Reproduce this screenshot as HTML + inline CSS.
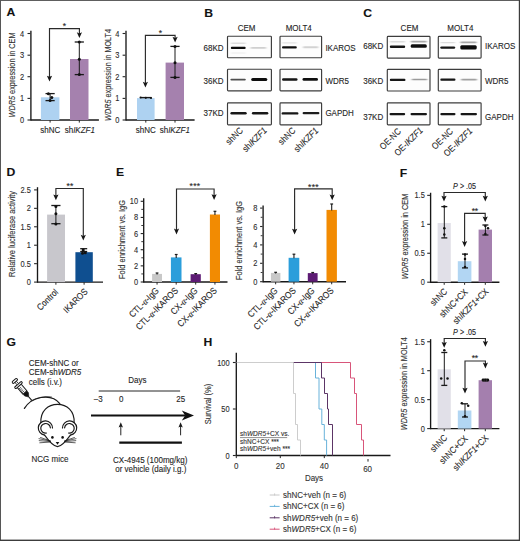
<!DOCTYPE html><html><head><meta charset="utf-8"><style>html,body{margin:0;padding:0;background:#fff;overflow:hidden;}svg{display:block;}text{font-family:"Liberation Sans",sans-serif;stroke:#333;stroke-width:0.12px;}</style></head><body>
<svg width="520" height="541" viewBox="0 0 520 541">
<defs><filter id="bl" x="-20%" y="-300%" width="140%" height="700%"><feGaussianBlur stdDeviation="0.7 0.55"/></filter><filter id="bl2" x="-20%" y="-300%" width="140%" height="700%"><feGaussianBlur stdDeviation="0.8 0.7"/></filter></defs>
<rect x="0" y="0" width="520" height="541" fill="#fff"/>
<text transform="translate(6.6,16.4) scale(1.05,1)" font-size="11.6" text-anchor="start" fill="#111" font-weight="bold" >A</text>
<line x1="30.9" y1="30.8" x2="30.9" y2="120.6" stroke="#181818" stroke-width="1.35" />
<line x1="30.299999999999997" y1="120.0" x2="98.9" y2="120.0" stroke="#181818" stroke-width="1.35" />
<line x1="50.1" y1="120.0" x2="50.1" y2="122.6" stroke="#262626" stroke-width="1.0" />
<line x1="79.3" y1="120.0" x2="79.3" y2="122.6" stroke="#262626" stroke-width="1.0" />
<line x1="27.5" y1="33.5" x2="30.3" y2="33.5" stroke="#262626" stroke-width="1.1" />
<text transform="translate(24.2,36.5) scale(0.8,1)" font-size="9.3" text-anchor="end" fill="#2a2a2a" >4</text>
<line x1="27.5" y1="55.2" x2="30.3" y2="55.2" stroke="#262626" stroke-width="1.1" />
<text transform="translate(24.2,58.2) scale(0.8,1)" font-size="9.3" text-anchor="end" fill="#2a2a2a" >3</text>
<line x1="27.5" y1="76.7" x2="30.3" y2="76.7" stroke="#262626" stroke-width="1.1" />
<text transform="translate(24.2,79.7) scale(0.8,1)" font-size="9.3" text-anchor="end" fill="#2a2a2a" >2</text>
<line x1="27.5" y1="98.4" x2="30.3" y2="98.4" stroke="#262626" stroke-width="1.1" />
<text transform="translate(24.2,101.4) scale(0.8,1)" font-size="9.3" text-anchor="end" fill="#2a2a2a" >1</text>
<line x1="27.5" y1="120.0" x2="30.3" y2="120.0" stroke="#262626" stroke-width="1.1" />
<text transform="translate(24.2,123.0) scale(0.8,1)" font-size="9.3" text-anchor="end" fill="#2a2a2a" >0</text>
<rect x="40.9" y="97.3" width="18.5" height="22.700000000000003" fill="#aed2f1" />
<rect x="70.0" y="59.0" width="18.5" height="61.0" fill="#a581ae" />
<line x1="50.1" y1="93.6" x2="50.1" y2="100.6" stroke="#1a1a1a" stroke-width="1.0" />
<line x1="45.5" y1="93.6" x2="54.7" y2="93.6" stroke="#1a1a1a" stroke-width="1.3" />
<line x1="45.5" y1="100.6" x2="54.7" y2="100.6" stroke="#1a1a1a" stroke-width="1.3" />
<circle cx="48.4" cy="93.8" r="1.5" fill="#111"/>
<circle cx="51.8" cy="97.5" r="1.5" fill="#111"/>
<circle cx="50.1" cy="100.6" r="1.5" fill="#111"/>
<line x1="79.3" y1="42.0" x2="79.3" y2="74.6" stroke="#1a1a1a" stroke-width="1.0" />
<line x1="74.7" y1="42.0" x2="83.89999999999999" y2="42.0" stroke="#1a1a1a" stroke-width="1.3" />
<line x1="74.7" y1="74.6" x2="83.89999999999999" y2="74.6" stroke="#1a1a1a" stroke-width="1.3" />
<circle cx="79.3" cy="42.0" r="1.5" fill="#111"/>
<circle cx="79.3" cy="59.2" r="1.5" fill="#111"/>
<circle cx="79.3" cy="74.6" r="1.5" fill="#111"/>
<path d="M49.5,77.5 L49.5,28.6 L79.4,28.6 L79.4,34.1" fill="none" stroke="#2a2a2a" stroke-width="1.15"/>
<path d="M46.90,75.70 L49.50,76.80 L52.10,75.70 L49.50,81.50 Z" fill="#161616"/>
<path d="M76.80,32.30 L79.40,33.40 L82.00,32.30 L79.40,38.10 Z" fill="#161616"/>
<text x="64.40" y="29.46" font-size="8.6" text-anchor="middle" fill="#1a1a1a">*</text>
<text transform="translate(50.3,132.8) scale(0.88,1)" font-size="9.1" text-anchor="middle" fill="#222" >shNC</text>
<text transform="translate(79.8,132.8) scale(0.88,1)" font-size="9.1" text-anchor="middle" fill="#222" >sh<tspan font-style="italic">IKZF1</tspan></text>
<text transform="translate(15.0,75) rotate(-90)" font-size="9" text-anchor="middle" fill="#333" textLength="85" lengthAdjust="spacingAndGlyphs"><tspan font-style="italic">WDR5</tspan> expression in CEM</text>
<line x1="126.0" y1="30.8" x2="126.0" y2="120.6" stroke="#181818" stroke-width="1.35" />
<line x1="125.4" y1="120.0" x2="194.6" y2="120.0" stroke="#181818" stroke-width="1.35" />
<line x1="145.8" y1="120.0" x2="145.8" y2="122.6" stroke="#262626" stroke-width="1.0" />
<line x1="175.0" y1="120.0" x2="175.0" y2="122.6" stroke="#262626" stroke-width="1.0" />
<line x1="122.60000000000001" y1="33.5" x2="125.4" y2="33.5" stroke="#262626" stroke-width="1.1" />
<text transform="translate(119.30000000000001,36.5) scale(0.8,1)" font-size="9.3" text-anchor="end" fill="#2a2a2a" >4</text>
<line x1="122.60000000000001" y1="55.2" x2="125.4" y2="55.2" stroke="#262626" stroke-width="1.1" />
<text transform="translate(119.30000000000001,58.2) scale(0.8,1)" font-size="9.3" text-anchor="end" fill="#2a2a2a" >3</text>
<line x1="122.60000000000001" y1="76.7" x2="125.4" y2="76.7" stroke="#262626" stroke-width="1.1" />
<text transform="translate(119.30000000000001,79.7) scale(0.8,1)" font-size="9.3" text-anchor="end" fill="#2a2a2a" >2</text>
<line x1="122.60000000000001" y1="98.4" x2="125.4" y2="98.4" stroke="#262626" stroke-width="1.1" />
<text transform="translate(119.30000000000001,101.4) scale(0.8,1)" font-size="9.3" text-anchor="end" fill="#2a2a2a" >1</text>
<line x1="122.60000000000001" y1="120.0" x2="125.4" y2="120.0" stroke="#262626" stroke-width="1.1" />
<text transform="translate(119.30000000000001,123.0) scale(0.8,1)" font-size="9.3" text-anchor="end" fill="#2a2a2a" >0</text>
<rect x="137.0" y="98.1" width="17.6" height="21.900000000000006" fill="#aed2f1" />
<rect x="165.6" y="62.6" width="18.4" height="57.4" fill="#a581ae" />
<line x1="140.5" y1="97.6" x2="151.5" y2="97.6" stroke="#1a1a1a" stroke-width="1.4" />
<circle cx="140.6" cy="97.5" r="1.1" fill="#111"/>
<circle cx="145.8" cy="97.8" r="1.1" fill="#111"/>
<circle cx="151.0" cy="98.0" r="1.1" fill="#111"/>
<line x1="175.0" y1="46.4" x2="175.0" y2="77.4" stroke="#1a1a1a" stroke-width="1.0" />
<line x1="170.4" y1="46.4" x2="179.6" y2="46.4" stroke="#1a1a1a" stroke-width="1.3" />
<line x1="170.4" y1="77.4" x2="179.6" y2="77.4" stroke="#1a1a1a" stroke-width="1.3" />
<circle cx="175.0" cy="46.4" r="1.5" fill="#111"/>
<circle cx="175.0" cy="62.8" r="1.5" fill="#111"/>
<circle cx="175.0" cy="77.4" r="1.5" fill="#111"/>
<path d="M145.4,83.6 L145.4,35.3 L175.1,35.3 L175.1,38.6" fill="none" stroke="#2a2a2a" stroke-width="1.15"/>
<path d="M142.80,81.80 L145.40,82.90 L148.00,81.80 L145.40,87.60 Z" fill="#161616"/>
<path d="M172.50,36.80 L175.10,37.90 L177.70,36.80 L175.10,42.60 Z" fill="#161616"/>
<text x="160.50" y="35.66" font-size="8.6" text-anchor="middle" fill="#1a1a1a">*</text>
<text transform="translate(145.8,132.9) scale(0.88,1)" font-size="9.1" text-anchor="middle" fill="#222" >shNC</text>
<text transform="translate(174.8,132.9) scale(0.88,1)" font-size="9.1" text-anchor="middle" fill="#222" >sh<tspan font-style="italic">IKZF1</tspan></text>
<text transform="translate(111.4,74.9) rotate(-90)" font-size="9" text-anchor="middle" fill="#333" textLength="92" lengthAdjust="spacingAndGlyphs"><tspan font-style="italic">WDR5</tspan> expression in MOLT4</text>
<text transform="translate(204.2,16.5) scale(1.05,1)" font-size="11.6" text-anchor="start" fill="#111" font-weight="bold" >B</text>
<rect x="227.5" y="36.2" width="43.89999999999998" height="21.5" rx="0.8" fill="#fdfdfd" stroke="#3c3c3c" stroke-width="1.15"/>
<rect x="227.5" y="69.2" width="43.89999999999998" height="21.700000000000003" rx="0.8" fill="#fdfdfd" stroke="#3c3c3c" stroke-width="1.15"/>
<rect x="227.5" y="102.9" width="43.89999999999998" height="21.89999999999999" rx="0.8" fill="#fdfdfd" stroke="#3c3c3c" stroke-width="1.15"/>
<rect x="280.0" y="36.2" width="41.60000000000002" height="21.5" rx="0.8" fill="#fdfdfd" stroke="#3c3c3c" stroke-width="1.15"/>
<rect x="280.0" y="69.2" width="41.60000000000002" height="21.700000000000003" rx="0.8" fill="#fdfdfd" stroke="#3c3c3c" stroke-width="1.15"/>
<rect x="280.0" y="102.9" width="41.60000000000002" height="21.89999999999999" rx="0.8" fill="#fdfdfd" stroke="#3c3c3c" stroke-width="1.15"/>
<text transform="translate(246.6,30.9) scale(0.88,1)" font-size="9.1" text-anchor="middle" fill="#222" >CEM</text>
<text transform="translate(298.7,30.9) scale(0.88,1)" font-size="9.1" text-anchor="middle" fill="#222" >MOLT4</text>
<text transform="translate(223.6,50.9) scale(0.88,1)" font-size="9.1" text-anchor="end" fill="#222" >68KD</text>
<text transform="translate(223.6,83.6) scale(0.88,1)" font-size="9.1" text-anchor="end" fill="#222" >36KD</text>
<text transform="translate(223.6,116.0) scale(0.88,1)" font-size="9.1" text-anchor="end" fill="#222" >37KD</text>
<text transform="translate(325.4,50.8) scale(0.88,1)" font-size="9.1" text-anchor="start" fill="#222" >IKAROS</text>
<text transform="translate(325.4,83.7) scale(0.88,1)" font-size="9.1" text-anchor="start" fill="#222" >WDR5</text>
<text transform="translate(325.4,115.7) scale(0.88,1)" font-size="9.1" text-anchor="start" fill="#222" >GAPDH</text>
<rect x="230.8" y="42.5" width="14.899999999999977" height="1.4" rx="0.7" fill="#dedede" filter="url(#bl2)"/>
<rect x="230.8" y="46.85" width="14.899999999999977" height="2.1" rx="1.05" fill="#111" filter="url(#bl)"/>
<rect x="230.8" y="52.4" width="14.899999999999977" height="1.2" rx="0.6" fill="#ececec" filter="url(#bl2)"/>
<rect x="250.5" y="47.0" width="15.800000000000011" height="1.8" rx="0.9" fill="#cfcfcf" filter="url(#bl2)"/>
<rect x="230.4" y="78.64999999999999" width="15.400000000000006" height="1.9" rx="0.95" fill="#505050" filter="url(#bl)"/>
<rect x="251.2" y="78.1" width="16.100000000000023" height="3.0" rx="1.5" fill="#111" filter="url(#bl)"/>
<rect x="230.4" y="112.05" width="16.299999999999983" height="2.5" rx="1.25" fill="#141414" filter="url(#bl)"/>
<rect x="251.9" y="112.05" width="16.400000000000006" height="2.5" rx="1.25" fill="#161616" filter="url(#bl)"/>
<rect x="282.0" y="42.199999999999996" width="14.800000000000011" height="1.4" rx="0.7" fill="#e2e2e2" filter="url(#bl2)"/>
<rect x="282.0" y="46.35" width="14.800000000000011" height="2.1" rx="1.05" fill="#111" filter="url(#bl)"/>
<rect x="302.9" y="46.349999999999994" width="15.5" height="1.9" rx="0.95" fill="#d2d2d2" filter="url(#bl2)"/>
<rect x="282.0" y="78.15" width="15.5" height="2.5" rx="1.25" fill="#161616" filter="url(#bl)"/>
<rect x="302.5" y="77.95" width="15.5" height="2.9" rx="1.45" fill="#101010" filter="url(#bl)"/>
<rect x="281.6" y="112.2" width="16.799999999999955" height="2.4" rx="1.2" fill="#161616" filter="url(#bl)"/>
<rect x="302.6" y="112.10000000000001" width="16.799999999999955" height="2.2" rx="1.1" fill="#1c1c1c" filter="url(#bl)"/>
<text transform="translate(243.5,131.1) rotate(-45) scale(0.88,1)" font-size="9.1" text-anchor="end" fill="#222" >shNC</text>
<text transform="translate(267.3,131.1) rotate(-45) scale(0.88,1)" font-size="9.1" text-anchor="end" fill="#222" >sh<tspan font-style="italic">IKZF1</tspan></text>
<text transform="translate(296.0,131.2) rotate(-45) scale(0.88,1)" font-size="9.1" text-anchor="end" fill="#222" >shNC</text>
<text transform="translate(318.8,131.3) rotate(-45) scale(0.88,1)" font-size="9.1" text-anchor="end" fill="#222" >sh<tspan font-style="italic">IKZF1</tspan></text>
<text transform="translate(363.2,16.7) scale(1.05,1)" font-size="11.6" text-anchor="start" fill="#111" font-weight="bold" >C</text>
<rect x="387.3" y="36.4" width="42.69999999999999" height="21.700000000000003" rx="0.8" fill="#fdfdfd" stroke="#3c3c3c" stroke-width="1.15"/>
<rect x="387.3" y="69.3" width="42.69999999999999" height="21.700000000000003" rx="0.8" fill="#fdfdfd" stroke="#3c3c3c" stroke-width="1.15"/>
<rect x="387.3" y="102.8" width="42.69999999999999" height="22.0" rx="0.8" fill="#fdfdfd" stroke="#3c3c3c" stroke-width="1.15"/>
<rect x="438.3" y="36.4" width="42.80000000000001" height="21.700000000000003" rx="0.8" fill="#fdfdfd" stroke="#3c3c3c" stroke-width="1.15"/>
<rect x="438.3" y="69.3" width="42.80000000000001" height="21.700000000000003" rx="0.8" fill="#fdfdfd" stroke="#3c3c3c" stroke-width="1.15"/>
<rect x="438.3" y="102.8" width="42.80000000000001" height="22.0" rx="0.8" fill="#fdfdfd" stroke="#3c3c3c" stroke-width="1.15"/>
<text transform="translate(409.5,31.2) scale(0.88,1)" font-size="9.1" text-anchor="middle" fill="#222" >CEM</text>
<text transform="translate(460.3,31.2) scale(0.88,1)" font-size="9.1" text-anchor="middle" fill="#222" >MOLT4</text>
<text transform="translate(383.2,48.9) scale(0.88,1)" font-size="9.1" text-anchor="end" fill="#222" >68KD</text>
<text transform="translate(383.2,84.3) scale(0.88,1)" font-size="9.1" text-anchor="end" fill="#222" >36KD</text>
<text transform="translate(383.2,120.1) scale(0.88,1)" font-size="9.1" text-anchor="end" fill="#222" >37KD</text>
<text transform="translate(485.0,49.2) scale(0.88,1)" font-size="9.1" text-anchor="start" fill="#222" >IKAROS</text>
<text transform="translate(485.0,84.0) scale(0.88,1)" font-size="9.1" text-anchor="start" fill="#222" >WDR5</text>
<text transform="translate(485.0,120.0) scale(0.88,1)" font-size="9.1" text-anchor="start" fill="#222" >GAPDH</text>
<rect x="389.8" y="41.099999999999994" width="15.399999999999977" height="1.4" rx="0.7" fill="#dcdcdc" filter="url(#bl2)"/>
<rect x="389.8" y="45.55" width="15.399999999999977" height="2.5" rx="1.25" fill="#121212" filter="url(#bl)"/>
<rect x="410.7" y="40.7" width="16.100000000000023" height="1.8" rx="0.9" fill="#a8a8a8" filter="url(#bl2)"/>
<rect x="410.7" y="44.15" width="16.100000000000023" height="3.7" rx="1.5" fill="#0b0b0b" filter="url(#bl)"/>
<rect x="389.8" y="78.75" width="15.699999999999989" height="2.3" rx="1.15" fill="#121212" filter="url(#bl)"/>
<rect x="411.7" y="78.65" width="15.600000000000023" height="1.7" rx="0.85" fill="#9a9a9a" filter="url(#bl2)"/>
<rect x="440.3" y="41.9" width="14.899999999999977" height="1.4" rx="0.7" fill="#dcdcdc" filter="url(#bl2)"/>
<rect x="440.3" y="46.4" width="14.899999999999977" height="2.4" rx="1.2" fill="#121212" filter="url(#bl)"/>
<rect x="460.3" y="41.4" width="16.399999999999977" height="1.8" rx="0.9" fill="#a8a8a8" filter="url(#bl2)"/>
<rect x="460.3" y="45.25" width="16.399999999999977" height="4.3" rx="1.5" fill="#0a0a0a" filter="url(#bl)"/>
<rect x="440.3" y="78.55" width="15.199999999999989" height="2.3" rx="1.15" fill="#121212" filter="url(#bl)"/>
<rect x="461.0" y="78.75" width="16.0" height="1.7" rx="0.85" fill="#a0a0a0" filter="url(#bl2)"/>
<rect x="389.5" y="112.89999999999999" width="15.699999999999989" height="2.4" rx="1.2" fill="#141414" filter="url(#bl)"/>
<rect x="410.5" y="112.89999999999999" width="16.5" height="2.4" rx="1.2" fill="#161616" filter="url(#bl)"/>
<rect x="440.3" y="112.89999999999999" width="15.199999999999989" height="2.4" rx="1.2" fill="#141414" filter="url(#bl)"/>
<rect x="460.5" y="112.89999999999999" width="16.5" height="2.4" rx="1.2" fill="#161616" filter="url(#bl)"/>
<text transform="translate(401.5,132.0) rotate(-45) scale(0.88,1)" font-size="9.1" text-anchor="end" fill="#222" >OE-NC</text>
<text transform="translate(423.4,131.0) rotate(-45) scale(0.88,1)" font-size="9.1" text-anchor="end" fill="#222" >OE-<tspan font-style="italic">IKZF1</tspan></text>
<text transform="translate(453.6,131.8) rotate(-45) scale(0.88,1)" font-size="9.1" text-anchor="end" fill="#222" >OE-NC</text>
<text transform="translate(472.8,131.6) rotate(-45) scale(0.88,1)" font-size="9.1" text-anchor="end" fill="#222" >OE-<tspan font-style="italic">IKZF1</tspan></text>
<text transform="translate(6.6,175.8) scale(1.05,1)" font-size="11.6" text-anchor="start" fill="#111" font-weight="bold" >D</text>
<line x1="37.5" y1="187.2" x2="37.5" y2="282.70000000000005" stroke="#181818" stroke-width="1.35" />
<line x1="36.9" y1="282.1" x2="103.0" y2="282.1" stroke="#181818" stroke-width="1.35" />
<line x1="55.9" y1="282.1" x2="55.9" y2="284.70000000000005" stroke="#262626" stroke-width="1.0" />
<line x1="84.1" y1="282.1" x2="84.1" y2="284.70000000000005" stroke="#262626" stroke-width="1.0" />
<line x1="34.1" y1="189.90000000000003" x2="36.9" y2="189.90000000000003" stroke="#262626" stroke-width="1.1" />
<text transform="translate(30.8,192.90000000000003) scale(0.8,1)" font-size="9.3" text-anchor="end" fill="#2a2a2a" >2.5</text>
<line x1="34.1" y1="208.34000000000003" x2="36.9" y2="208.34000000000003" stroke="#262626" stroke-width="1.1" />
<text transform="translate(30.8,211.34000000000003) scale(0.8,1)" font-size="9.3" text-anchor="end" fill="#2a2a2a" >2</text>
<line x1="34.1" y1="226.78000000000003" x2="36.9" y2="226.78000000000003" stroke="#262626" stroke-width="1.1" />
<text transform="translate(30.8,229.78000000000003) scale(0.8,1)" font-size="9.3" text-anchor="end" fill="#2a2a2a" >1.5</text>
<line x1="34.1" y1="245.22000000000003" x2="36.9" y2="245.22000000000003" stroke="#262626" stroke-width="1.1" />
<text transform="translate(30.8,248.22000000000003) scale(0.8,1)" font-size="9.3" text-anchor="end" fill="#2a2a2a" >1</text>
<line x1="34.1" y1="263.66" x2="36.9" y2="263.66" stroke="#262626" stroke-width="1.1" />
<text transform="translate(30.8,266.66) scale(0.8,1)" font-size="9.3" text-anchor="end" fill="#2a2a2a" >0.5</text>
<line x1="34.1" y1="282.1" x2="36.9" y2="282.1" stroke="#262626" stroke-width="1.1" />
<text transform="translate(30.8,285.1) scale(0.8,1)" font-size="9.3" text-anchor="end" fill="#2a2a2a" >0</text>
<rect x="47.1" y="214.6" width="17.9" height="67.50000000000003" fill="#c8c7cc" />
<rect x="75.4" y="252.2" width="17.4" height="29.900000000000034" fill="#0f4f90" />
<line x1="55.9" y1="205.5" x2="55.9" y2="223.7" stroke="#1a1a1a" stroke-width="1.0" />
<line x1="51.3" y1="205.5" x2="60.5" y2="205.5" stroke="#1a1a1a" stroke-width="1.3" />
<line x1="51.3" y1="223.7" x2="60.5" y2="223.7" stroke="#1a1a1a" stroke-width="1.3" />
<circle cx="55.9" cy="206.6" r="1.5" fill="#111"/>
<circle cx="55.9" cy="213.7" r="1.5" fill="#111"/>
<circle cx="55.9" cy="224.0" r="1.5" fill="#111"/>
<line x1="83.7" y1="248.7" x2="83.7" y2="251.5" stroke="#1a1a1a" stroke-width="1.0" />
<line x1="80.2" y1="248.7" x2="87.2" y2="248.7" stroke="#1a1a1a" stroke-width="1.3" />
<line x1="80.2" y1="251.5" x2="87.2" y2="251.5" stroke="#1a1a1a" stroke-width="1.3" />
<circle cx="83.2" cy="250.0" r="1.5" fill="#111"/>
<circle cx="85.3" cy="252.8" r="1.5" fill="#111"/>
<circle cx="82.5" cy="253.2" r="1.5" fill="#111"/>
<path d="M55.9,196.3 L55.9,188.5 L83.3,188.5 L83.3,236.6" fill="none" stroke="#2a2a2a" stroke-width="1.15"/>
<path d="M53.30,194.50 L55.90,195.60 L58.50,194.50 L55.90,200.30 Z" fill="#161616"/>
<path d="M80.70,234.80 L83.30,235.90 L85.90,234.80 L83.30,240.60 Z" fill="#161616"/>
<text x="68.20" y="189.06" font-size="8.6" text-anchor="middle" fill="#1a1a1a">*</text>
<text x="71.80" y="189.06" font-size="8.6" text-anchor="middle" fill="#1a1a1a">*</text>
<text transform="translate(58.7,292.7) rotate(-45) scale(0.88,1)" font-size="9.1" text-anchor="end" fill="#222" >Control</text>
<text transform="translate(88.3,292.3) rotate(-45) scale(0.88,1)" font-size="9.1" text-anchor="end" fill="#222" >IKAROS</text>
<text transform="translate(15.3,234) rotate(-90)" font-size="9" text-anchor="middle" fill="#333" textLength="86" lengthAdjust="spacingAndGlyphs">Relative luciferase activity</text>
<text transform="translate(116.0,176.2) scale(1.05,1)" font-size="11.6" text-anchor="start" fill="#111" font-weight="bold" >E</text>
<line x1="143.7" y1="198.3" x2="143.7" y2="282.6" stroke="#181818" stroke-width="1.35" />
<line x1="143.1" y1="282.0" x2="227.5" y2="282.0" stroke="#181818" stroke-width="1.35" />
<line x1="157.05" y1="282.0" x2="157.05" y2="284.6" stroke="#262626" stroke-width="1.0" />
<line x1="176.2" y1="282.0" x2="176.2" y2="284.6" stroke="#262626" stroke-width="1.0" />
<line x1="195.7" y1="282.0" x2="195.7" y2="284.6" stroke="#262626" stroke-width="1.0" />
<line x1="214.95" y1="282.0" x2="214.95" y2="284.6" stroke="#262626" stroke-width="1.0" />
<line x1="140.7" y1="282.0" x2="143.1" y2="282.0" stroke="#262626" stroke-width="1.1" />
<text transform="translate(138.1,285.0) scale(0.8,1)" font-size="9.3" text-anchor="end" fill="#2a2a2a" >0</text>
<line x1="140.7" y1="265.86" x2="143.1" y2="265.86" stroke="#262626" stroke-width="1.1" />
<text transform="translate(138.1,268.86) scale(0.8,1)" font-size="9.3" text-anchor="end" fill="#2a2a2a" >2</text>
<line x1="140.7" y1="249.72" x2="143.1" y2="249.72" stroke="#262626" stroke-width="1.1" />
<text transform="translate(138.1,252.72) scale(0.8,1)" font-size="9.3" text-anchor="end" fill="#2a2a2a" >4</text>
<line x1="140.7" y1="233.57999999999998" x2="143.1" y2="233.57999999999998" stroke="#262626" stroke-width="1.1" />
<text transform="translate(138.1,236.57999999999998) scale(0.8,1)" font-size="9.3" text-anchor="end" fill="#2a2a2a" >6</text>
<line x1="140.7" y1="217.44" x2="143.1" y2="217.44" stroke="#262626" stroke-width="1.1" />
<text transform="translate(138.1,220.44) scale(0.8,1)" font-size="9.3" text-anchor="end" fill="#2a2a2a" >8</text>
<line x1="140.7" y1="201.3" x2="143.1" y2="201.3" stroke="#262626" stroke-width="1.1" />
<text transform="translate(138.1,204.3) scale(0.8,1)" font-size="9.3" text-anchor="end" fill="#2a2a2a" >10</text>
<line x1="141.29999999999998" y1="273.93" x2="143.1" y2="273.93" stroke="#262626" stroke-width="0.9" />
<line x1="141.29999999999998" y1="257.79" x2="143.1" y2="257.79" stroke="#262626" stroke-width="0.9" />
<line x1="141.29999999999998" y1="241.65" x2="143.1" y2="241.65" stroke="#262626" stroke-width="0.9" />
<line x1="141.29999999999998" y1="225.51" x2="143.1" y2="225.51" stroke="#262626" stroke-width="0.9" />
<line x1="141.29999999999998" y1="209.37" x2="143.1" y2="209.37" stroke="#262626" stroke-width="0.9" />
<rect x="152.1" y="273.9" width="9.900000000000006" height="8.100000000000023" fill="#c8c8c8" />
<rect x="170.9" y="257.4" width="10.599999999999994" height="24.600000000000023" fill="#2b9edb" />
<rect x="190.6" y="274.2" width="10.200000000000017" height="7.800000000000011" fill="#5d1b74" />
<rect x="209.9" y="214.5" width="10.099999999999994" height="67.5" fill="#f28b02" />
<line x1="157.05" y1="273.0" x2="157.05" y2="274.4" stroke="#1a1a1a" stroke-width="1.1" />
<line x1="155.65" y1="273.0" x2="158.45000000000002" y2="273.0" stroke="#1a1a1a" stroke-width="1.2" />
<line x1="176.2" y1="254.5" x2="176.2" y2="257.9" stroke="#1a1a1a" stroke-width="1.1" />
<line x1="174.79999999999998" y1="254.5" x2="177.6" y2="254.5" stroke="#1a1a1a" stroke-width="1.2" />
<line x1="195.7" y1="273.6" x2="195.7" y2="274.7" stroke="#1a1a1a" stroke-width="1.1" />
<line x1="194.29999999999998" y1="273.6" x2="197.1" y2="273.6" stroke="#1a1a1a" stroke-width="1.2" />
<line x1="214.95" y1="211.3" x2="214.95" y2="215.0" stroke="#1a1a1a" stroke-width="1.1" />
<line x1="213.54999999999998" y1="211.3" x2="216.35" y2="211.3" stroke="#1a1a1a" stroke-width="1.2" />
<path d="M176.5,230.4 L176.5,189.0 L214.1,189.0 L214.1,196.0" fill="none" stroke="#2a2a2a" stroke-width="1.15"/>
<path d="M173.90,228.60 L176.50,229.70 L179.10,228.60 L176.50,234.40 Z" fill="#161616"/>
<path d="M211.50,194.20 L214.10,195.30 L216.70,194.20 L214.10,200.00 Z" fill="#161616"/>
<text x="191.30" y="189.46" font-size="8.6" text-anchor="middle" fill="#1a1a1a">*</text>
<text x="194.90" y="189.46" font-size="8.6" text-anchor="middle" fill="#1a1a1a">*</text>
<text x="198.50" y="189.46" font-size="8.6" text-anchor="middle" fill="#1a1a1a">*</text>
<line x1="263.1" y1="205.4" x2="263.1" y2="282.3" stroke="#181818" stroke-width="1.35" />
<line x1="262.5" y1="281.7" x2="346.0" y2="281.7" stroke="#181818" stroke-width="1.35" />
<line x1="275.65" y1="281.7" x2="275.65" y2="284.3" stroke="#262626" stroke-width="1.0" />
<line x1="293.95000000000005" y1="281.7" x2="293.95000000000005" y2="284.3" stroke="#262626" stroke-width="1.0" />
<line x1="312.70000000000005" y1="281.7" x2="312.70000000000005" y2="284.3" stroke="#262626" stroke-width="1.0" />
<line x1="331.7" y1="281.7" x2="331.7" y2="284.3" stroke="#262626" stroke-width="1.0" />
<line x1="260.1" y1="281.7" x2="262.5" y2="281.7" stroke="#262626" stroke-width="1.1" />
<text transform="translate(257.5,284.7) scale(0.8,1)" font-size="9.3" text-anchor="end" fill="#2a2a2a" >0</text>
<line x1="260.1" y1="263.3" x2="262.5" y2="263.3" stroke="#262626" stroke-width="1.1" />
<text transform="translate(257.5,266.3) scale(0.8,1)" font-size="9.3" text-anchor="end" fill="#2a2a2a" >2</text>
<line x1="260.1" y1="244.89999999999998" x2="262.5" y2="244.89999999999998" stroke="#262626" stroke-width="1.1" />
<text transform="translate(257.5,247.89999999999998) scale(0.8,1)" font-size="9.3" text-anchor="end" fill="#2a2a2a" >4</text>
<line x1="260.1" y1="226.5" x2="262.5" y2="226.5" stroke="#262626" stroke-width="1.1" />
<text transform="translate(257.5,229.5) scale(0.8,1)" font-size="9.3" text-anchor="end" fill="#2a2a2a" >6</text>
<line x1="260.1" y1="208.1" x2="262.5" y2="208.1" stroke="#262626" stroke-width="1.1" />
<text transform="translate(257.5,211.1) scale(0.8,1)" font-size="9.3" text-anchor="end" fill="#2a2a2a" >8</text>
<line x1="260.7" y1="272.5" x2="262.5" y2="272.5" stroke="#262626" stroke-width="0.9" />
<line x1="260.7" y1="254.1" x2="262.5" y2="254.1" stroke="#262626" stroke-width="0.9" />
<line x1="260.7" y1="235.7" x2="262.5" y2="235.7" stroke="#262626" stroke-width="0.9" />
<line x1="260.7" y1="217.3" x2="262.5" y2="217.3" stroke="#262626" stroke-width="0.9" />
<rect x="270.9" y="272.9" width="9.5" height="8.800000000000011" fill="#c8c8c8" />
<rect x="288.6" y="257.8" width="10.699999999999989" height="23.899999999999977" fill="#2b9edb" />
<rect x="307.8" y="273.1" width="9.800000000000011" height="8.599999999999966" fill="#5d1b74" />
<rect x="326.5" y="209.9" width="10.399999999999977" height="71.79999999999998" fill="#f28b02" />
<line x1="275.65" y1="272.3" x2="275.65" y2="273.4" stroke="#1a1a1a" stroke-width="1.1" />
<line x1="274.25" y1="272.3" x2="277.04999999999995" y2="272.3" stroke="#1a1a1a" stroke-width="1.2" />
<line x1="293.95000000000005" y1="254.2" x2="293.95000000000005" y2="258.3" stroke="#1a1a1a" stroke-width="1.1" />
<line x1="292.55000000000007" y1="254.2" x2="295.35" y2="254.2" stroke="#1a1a1a" stroke-width="1.2" />
<line x1="312.70000000000005" y1="272.5" x2="312.70000000000005" y2="273.6" stroke="#1a1a1a" stroke-width="1.1" />
<line x1="311.30000000000007" y1="272.5" x2="314.1" y2="272.5" stroke="#1a1a1a" stroke-width="1.2" />
<line x1="331.7" y1="204.0" x2="331.7" y2="210.4" stroke="#1a1a1a" stroke-width="1.1" />
<line x1="330.3" y1="204.0" x2="333.09999999999997" y2="204.0" stroke="#1a1a1a" stroke-width="1.2" />
<path d="M294.6,230.5 L294.6,188.9 L332.2,188.9 L332.2,196.3" fill="none" stroke="#2a2a2a" stroke-width="1.15"/>
<path d="M292.00,228.70 L294.60,229.80 L297.20,228.70 L294.60,234.50 Z" fill="#161616"/>
<path d="M329.60,194.50 L332.20,195.60 L334.80,194.50 L332.20,200.30 Z" fill="#161616"/>
<text x="309.80" y="189.66" font-size="8.6" text-anchor="middle" fill="#1a1a1a">*</text>
<text x="313.40" y="189.66" font-size="8.6" text-anchor="middle" fill="#1a1a1a">*</text>
<text x="317.00" y="189.66" font-size="8.6" text-anchor="middle" fill="#1a1a1a">*</text>
<text transform="translate(159.55,291.2) rotate(-45) scale(0.88,1)" font-size="9.2" text-anchor="end" fill="#222" >CTL-<tspan font-family="Liberation Serif" font-style="italic">α</tspan>-IgG</text>
<text transform="translate(178.7,291.2) rotate(-45) scale(0.88,1)" font-size="9.2" text-anchor="end" fill="#222" >CTL-<tspan font-family="Liberation Serif" font-style="italic">α</tspan>-IKAROS</text>
<text transform="translate(198.2,291.2) rotate(-45) scale(0.88,1)" font-size="9.2" text-anchor="end" fill="#222" >CX-<tspan font-family="Liberation Serif" font-style="italic">α</tspan>-IgG</text>
<text transform="translate(217.45,291.2) rotate(-45) scale(0.88,1)" font-size="9.2" text-anchor="end" fill="#222" >CX-<tspan font-family="Liberation Serif" font-style="italic">α</tspan>-IKAROS</text>
<text transform="translate(278.15,291.2) rotate(-45) scale(0.88,1)" font-size="9.2" text-anchor="end" fill="#222" >CTL-<tspan font-family="Liberation Serif" font-style="italic">α</tspan>-IgG</text>
<text transform="translate(296.45,291.2) rotate(-45) scale(0.88,1)" font-size="9.2" text-anchor="end" fill="#222" >CTL-<tspan font-family="Liberation Serif" font-style="italic">α</tspan>-IKAROS</text>
<text transform="translate(315.2,291.2) rotate(-45) scale(0.88,1)" font-size="9.2" text-anchor="end" fill="#222" >CX-<tspan font-family="Liberation Serif" font-style="italic">α</tspan>-IgG</text>
<text transform="translate(334.2,291.2) rotate(-45) scale(0.88,1)" font-size="9.2" text-anchor="end" fill="#222" >CX-<tspan font-family="Liberation Serif" font-style="italic">α</tspan>-IKAROS</text>
<text transform="translate(124.8,239.5) rotate(-90)" font-size="8.8" text-anchor="middle" fill="#333" textLength="79" lengthAdjust="spacingAndGlyphs">Fold enrichment vs. IgG</text>
<text transform="translate(242.0,240.5) rotate(-90)" font-size="8.8" text-anchor="middle" fill="#333" textLength="79" lengthAdjust="spacingAndGlyphs">Fold enrichment vs. IgG</text>
<text transform="translate(399.8,176.8) scale(1.05,1)" font-size="11.6" text-anchor="start" fill="#111" font-weight="bold" >F</text>
<line x1="430.6" y1="192.75" x2="430.6" y2="282.8" stroke="#181818" stroke-width="1.35" />
<line x1="430.0" y1="282.2" x2="499.4" y2="282.2" stroke="#181818" stroke-width="1.35" />
<line x1="444.20000000000005" y1="282.2" x2="444.20000000000005" y2="284.8" stroke="#262626" stroke-width="1.0" />
<line x1="464.6" y1="282.2" x2="464.6" y2="284.8" stroke="#262626" stroke-width="1.0" />
<line x1="485.3" y1="282.2" x2="485.3" y2="284.8" stroke="#262626" stroke-width="1.0" />
<line x1="427.2" y1="195.35" x2="430.0" y2="195.35" stroke="#262626" stroke-width="1.1" />
<text transform="translate(424.8,198.35) scale(0.8,1)" font-size="9.3" text-anchor="end" fill="#2a2a2a" >1.5</text>
<line x1="427.2" y1="224.29999999999998" x2="430.0" y2="224.29999999999998" stroke="#262626" stroke-width="1.1" />
<text transform="translate(424.8,227.29999999999998) scale(0.8,1)" font-size="9.3" text-anchor="end" fill="#2a2a2a" >1</text>
<line x1="427.2" y1="253.25" x2="430.0" y2="253.25" stroke="#262626" stroke-width="1.1" />
<text transform="translate(424.8,256.25) scale(0.8,1)" font-size="9.3" text-anchor="end" fill="#2a2a2a" >0.5</text>
<line x1="427.2" y1="282.2" x2="430.0" y2="282.2" stroke="#262626" stroke-width="1.1" />
<text transform="translate(424.8,285.2) scale(0.8,1)" font-size="9.3" text-anchor="end" fill="#2a2a2a" >0</text>
<rect x="437.6" y="223.0" width="13.199999999999989" height="59.19999999999999" fill="#e1e0e8" />
<rect x="457.8" y="261.2" width="13.599999999999966" height="21.0" fill="#b2d6f3" />
<rect x="478.6" y="229.6" width="13.399999999999977" height="52.599999999999994" fill="#a47fae" />
<line x1="444.3" y1="206.6" x2="444.3" y2="237.9" stroke="#1a1a1a" stroke-width="1.0" />
<line x1="441.3" y1="206.6" x2="447.3" y2="206.6" stroke="#1a1a1a" stroke-width="1.3" />
<line x1="441.3" y1="237.9" x2="447.3" y2="237.9" stroke="#1a1a1a" stroke-width="1.3" />
<circle cx="444.3" cy="206.6" r="1.25" fill="#111"/>
<circle cx="444.3" cy="228.3" r="1.25" fill="#111"/>
<circle cx="444.3" cy="234.6" r="1.25" fill="#111"/>
<line x1="465.0" y1="254.1" x2="465.0" y2="267.9" stroke="#1a1a1a" stroke-width="1.0" />
<line x1="462.0" y1="254.1" x2="468.0" y2="254.1" stroke="#1a1a1a" stroke-width="1.3" />
<line x1="462.0" y1="267.9" x2="468.0" y2="267.9" stroke="#1a1a1a" stroke-width="1.3" />
<circle cx="465.0" cy="254.5" r="1.25" fill="#111"/>
<circle cx="465.0" cy="259.0" r="1.25" fill="#111"/>
<circle cx="465.0" cy="266.9" r="1.25" fill="#111"/>
<line x1="485.4" y1="225.0" x2="485.4" y2="235.0" stroke="#1a1a1a" stroke-width="1.0" />
<line x1="482.4" y1="225.0" x2="488.4" y2="225.0" stroke="#1a1a1a" stroke-width="1.3" />
<line x1="482.4" y1="235.0" x2="488.4" y2="235.0" stroke="#1a1a1a" stroke-width="1.3" />
<circle cx="485.4" cy="226.0" r="1.25" fill="#111"/>
<circle cx="488.0" cy="228.3" r="1.25" fill="#111"/>
<circle cx="485.4" cy="234.0" r="1.25" fill="#111"/>
<path d="M444.0,197.5 L444.0,192.5 L485.3,192.5 L485.3,197.5" fill="none" stroke="#2a2a2a" stroke-width="1.15"/>
<path d="M441.40,195.70 L444.00,196.80 L446.60,195.70 L444.00,201.50 Z" fill="#161616"/>
<path d="M482.70,195.70 L485.30,196.80 L487.90,195.70 L485.30,201.50 Z" fill="#161616"/>
<path d="M464.6,242.9 L464.6,213.4 L485.2,213.4 L485.2,218.3" fill="none" stroke="#2a2a2a" stroke-width="1.15"/>
<path d="M462.00,241.10 L464.60,242.20 L467.20,241.10 L464.60,246.90 Z" fill="#161616"/>
<path d="M482.60,216.50 L485.20,217.60 L487.80,216.50 L485.20,222.30 Z" fill="#161616"/>
<text transform="translate(464.6,188.9) scale(0.88,1)" font-size="8.2" text-anchor="middle" fill="#222" ><tspan font-style="italic">P</tspan> &gt; .05</text>
<text x="473.50" y="213.96" font-size="8.6" text-anchor="middle" fill="#1a1a1a">*</text>
<text x="476.50" y="213.96" font-size="8.6" text-anchor="middle" fill="#1a1a1a">*</text>
<text transform="translate(408.2,236.5) rotate(-90)" font-size="9" text-anchor="middle" fill="#333" textLength="85.5" lengthAdjust="spacingAndGlyphs"><tspan font-style="italic">WDR5</tspan> expression in CEM</text>
<line x1="430.6" y1="339.15" x2="430.6" y2="429.20000000000005" stroke="#181818" stroke-width="1.35" />
<line x1="430.0" y1="428.6" x2="499.4" y2="428.6" stroke="#181818" stroke-width="1.35" />
<line x1="444.20000000000005" y1="428.6" x2="444.20000000000005" y2="431.20000000000005" stroke="#262626" stroke-width="1.0" />
<line x1="464.6" y1="428.6" x2="464.6" y2="431.20000000000005" stroke="#262626" stroke-width="1.0" />
<line x1="485.3" y1="428.6" x2="485.3" y2="431.20000000000005" stroke="#262626" stroke-width="1.0" />
<line x1="427.2" y1="341.75" x2="430.0" y2="341.75" stroke="#262626" stroke-width="1.1" />
<text transform="translate(424.8,344.75) scale(0.8,1)" font-size="9.3" text-anchor="end" fill="#2a2a2a" >1.5</text>
<line x1="427.2" y1="370.70000000000005" x2="430.0" y2="370.70000000000005" stroke="#262626" stroke-width="1.1" />
<text transform="translate(424.8,373.70000000000005) scale(0.8,1)" font-size="9.3" text-anchor="end" fill="#2a2a2a" >1</text>
<line x1="427.2" y1="399.65000000000003" x2="430.0" y2="399.65000000000003" stroke="#262626" stroke-width="1.1" />
<text transform="translate(424.8,402.65000000000003) scale(0.8,1)" font-size="9.3" text-anchor="end" fill="#2a2a2a" >0.5</text>
<line x1="427.2" y1="428.6" x2="430.0" y2="428.6" stroke="#262626" stroke-width="1.1" />
<text transform="translate(424.8,431.6) scale(0.8,1)" font-size="9.3" text-anchor="end" fill="#2a2a2a" >0</text>
<rect x="437.6" y="369.3" width="13.199999999999989" height="59.30000000000001" fill="#e1e0e8" />
<rect x="457.8" y="410.5" width="13.599999999999966" height="18.100000000000023" fill="#b2d6f3" />
<rect x="478.6" y="380.2" width="13.399999999999977" height="48.400000000000034" fill="#a47fae" />
<line x1="444.3" y1="352.5" x2="444.3" y2="385.4" stroke="#1a1a1a" stroke-width="1.0" />
<line x1="441.3" y1="352.5" x2="447.3" y2="352.5" stroke="#1a1a1a" stroke-width="1.3" />
<line x1="441.3" y1="385.4" x2="447.3" y2="385.4" stroke="#1a1a1a" stroke-width="1.3" />
<circle cx="444.3" cy="350.3" r="1.25" fill="#111"/>
<circle cx="441.2" cy="378.5" r="1.25" fill="#111"/>
<circle cx="447.5" cy="378.5" r="1.25" fill="#111"/>
<line x1="465.0" y1="403.8" x2="465.0" y2="417.0" stroke="#1a1a1a" stroke-width="1.0" />
<line x1="462.0" y1="403.8" x2="468.0" y2="403.8" stroke="#1a1a1a" stroke-width="1.3" />
<line x1="462.0" y1="417.0" x2="468.0" y2="417.0" stroke="#1a1a1a" stroke-width="1.3" />
<circle cx="461.8" cy="403.2" r="1.25" fill="#111"/>
<circle cx="468.2" cy="405.8" r="1.25" fill="#111"/>
<circle cx="465.0" cy="416.2" r="1.25" fill="#111"/>
<line x1="485.4" y1="379.2" x2="485.4" y2="381.0" stroke="#1a1a1a" stroke-width="1.0" />
<line x1="482.4" y1="379.2" x2="488.4" y2="379.2" stroke="#1a1a1a" stroke-width="1.3" />
<line x1="482.4" y1="381.0" x2="488.4" y2="381.0" stroke="#1a1a1a" stroke-width="1.3" />
<circle cx="482.8" cy="380.1" r="1.25" fill="#111"/>
<circle cx="485.4" cy="380.1" r="1.25" fill="#111"/>
<circle cx="488.0" cy="380.1" r="1.25" fill="#111"/>
<path d="M444.2,343.7 L444.2,338.5 L485.4,338.5 L485.4,342.8" fill="none" stroke="#2a2a2a" stroke-width="1.15"/>
<path d="M441.60,341.90 L444.20,343.00 L446.80,341.90 L444.20,347.70 Z" fill="#161616"/>
<path d="M482.80,341.00 L485.40,342.10 L488.00,341.00 L485.40,346.80 Z" fill="#161616"/>
<path d="M465.0,389.5 L465.0,361.0 L485.4,361.0 L485.4,364.4" fill="none" stroke="#2a2a2a" stroke-width="1.15"/>
<path d="M462.40,387.70 L465.00,388.80 L467.60,387.70 L465.00,393.50 Z" fill="#161616"/>
<path d="M482.80,362.60 L485.40,363.70 L488.00,362.60 L485.40,368.40 Z" fill="#161616"/>
<text transform="translate(464.6,335.3) scale(0.88,1)" font-size="8.2" text-anchor="middle" fill="#222" ><tspan font-style="italic">P</tspan> &gt; .05</text>
<text x="473.50" y="360.86" font-size="8.6" text-anchor="middle" fill="#1a1a1a">*</text>
<text x="476.50" y="360.86" font-size="8.6" text-anchor="middle" fill="#1a1a1a">*</text>
<text transform="translate(407.4,383.7) rotate(-90)" font-size="9" text-anchor="middle" fill="#333" textLength="93" lengthAdjust="spacingAndGlyphs"><tspan font-style="italic">WDR5</tspan> expression in MOLT4</text>
<text transform="translate(447.9,292.1) rotate(-45) scale(0.88,1)" font-size="9.1" text-anchor="end" fill="#222" >shNC</text>
<text transform="translate(468.3,292.7) rotate(-45) scale(0.88,1)" font-size="9.1" text-anchor="end" fill="#222" >shNC+CX</text>
<text transform="translate(489.0,292.2) rotate(-45) scale(0.88,1)" font-size="9.1" text-anchor="end" fill="#222" >sh<tspan font-style="italic">IKZF1</tspan>+CX</text>
<text transform="translate(447.9,438.5) rotate(-45) scale(0.88,1)" font-size="9.1" text-anchor="end" fill="#222" >shNC</text>
<text transform="translate(468.3,439.1) rotate(-45) scale(0.88,1)" font-size="9.1" text-anchor="end" fill="#222" >shNC+CX</text>
<text transform="translate(489.0,438.6) rotate(-45) scale(0.88,1)" font-size="9.1" text-anchor="end" fill="#222" >sh<tspan font-style="italic">IKZF1</tspan>+CX</text>
<text transform="translate(6.6,346.3) scale(1.05,1)" font-size="11.6" text-anchor="start" fill="#111" font-weight="bold" >G</text>
<text transform="translate(28.8,365.6) scale(0.88,1)" font-size="9.1" text-anchor="start" fill="#222" >CEM-shNC or</text>
<text transform="translate(28.8,375.2) scale(0.88,1)" font-size="9.1" text-anchor="start" fill="#222" >CEM-sh<tspan font-style="italic">WDR5</tspan></text>
<text transform="translate(28.8,384.6) scale(0.88,1)" font-size="9.1" text-anchor="start" fill="#222" >cells (i.v.)</text>
<text transform="translate(50.0,461.9) scale(0.88,1)" font-size="9.1" text-anchor="middle" fill="#222" >NCG mice</text>
<text transform="translate(137.3,383.3) scale(0.88,1)" font-size="9.1" text-anchor="middle" fill="#222" >Days</text>
<line x1="98.7" y1="391.0" x2="180.1" y2="391.0" stroke="#262626" stroke-width="1.0" />
<text transform="translate(98.2,402.0) scale(0.88,1)" font-size="9.1" text-anchor="middle" fill="#222" >–3</text>
<text transform="translate(121.2,402.0) scale(0.88,1)" font-size="9.1" text-anchor="middle" fill="#222" >0</text>
<text transform="translate(180.8,402.0) scale(0.88,1)" font-size="9.1" text-anchor="middle" fill="#222" >25</text>
<line x1="91.0" y1="415.5" x2="185.0" y2="415.5" stroke="#111" stroke-width="2.1" />
<path d="M181.8,410.4 L194,415.5 L181.8,420.6 L185.2,415.5 Z" fill="#111"/>
<line x1="120.8" y1="425.0" x2="120.8" y2="435.3" stroke="#262626" stroke-width="1.0" />
<path d="M118.6,427.6 L120.8,422.2 L123.0,427.6 L120.8,426.4 Z" fill="#1a1a1a"/>
<line x1="180.6" y1="425.0" x2="180.6" y2="435.3" stroke="#262626" stroke-width="1.0" />
<path d="M178.4,427.6 L180.6,422.2 L182.79999999999998,427.6 L180.6,426.4 Z" fill="#1a1a1a"/>
<line x1="119.3" y1="442.6" x2="181.9" y2="442.6" stroke="#111" stroke-width="2.1" />
<text transform="translate(150.2,462.7) scale(0.88,1)" font-size="9.1" text-anchor="middle" fill="#222" >CX-4945 (100mg/kg)</text>
<text transform="translate(150.8,471.6) scale(0.88,1)" font-size="9.1" text-anchor="middle" fill="#222" >or vehicle (daily i.g.)</text>
<g fill="none" stroke="#1a1a1a" stroke-width="1.15" stroke-linecap="round">
<path d="M24.4,408.4 C28,402.5 34,398.8 41,397.5 C48,396.3 55,397.4 59.8,403.6" stroke-width="1.25"/>
<path d="M30.5,401.2 C37,397.6 44,396 51.5,397" stroke-width="0.7"/>
<path d="M40.9,422.6 C40.3,411 48,404.3 57.5,404.3 C67,404.3 74.7,411 74.1,422.6"/>
<path d="M44.6,435.1 C48.5,440.5 53,446.4 57.5,446.6 C62,446.4 66.5,440.5 70.4,435.1"/>
<path d="M52.5,428 A7.1,7.1 0 1 0 44.53,435.05" stroke-width="1.2"/>
<path d="M50.37,427.8 A4.8,4.8 0 1 0 46.43,433.03" stroke-width="1.2"/>
<path d="M62.5,428 A7.1,7.1 0 1 1 70.47,435.05" stroke-width="1.2"/>
<path d="M64.63,427.8 A4.8,4.8 0 1 1 68.57,433.03" stroke-width="1.2"/>
</g>
<g stroke="#1a1a1a" stroke-width="0.7" fill="none">
<path d="M38.6,438.6 L50.8,441.2 M38.8,440.6 L50.8,441.6 M39.4,442.8 L50.8,442.0 M40.2,437.4 L50.8,441"/>
<path d="M76.4,438.6 L64.2,441.2 M76.2,440.6 L64.2,441.6 M75.6,442.8 L64.2,442.0 M74.8,437.4 L64.2,441"/>
</g>
<circle cx="52.4" cy="437.4" r="1.3" fill="#111"/>
<circle cx="62.6" cy="437.4" r="1.3" fill="#111"/>
<path d="M55.7,442.1 L59.3,442.1 L57.5,444.8 Z" fill="#111"/>
<g transform="translate(31.8,400.4) rotate(-131)" stroke="#1a1a1a" fill="none" stroke-linejoin="round">
<line x1="0" y1="0" x2="6" y2="0" stroke-width="1.0"/>
<path d="M5.5,-0.7 L8,-2.5 L10.5,-2.5 L10.5,2.5 L8,2.5 L5.5,0.7 Z" fill="#111" stroke-width="0.6"/>
<rect x="10.5" y="-2.6" width="8.8" height="5.2" fill="#fff" stroke-width="1.0"/>
<path d="M12.2,-2.6 L12.2,0.6 M13.8,-2.6 L13.8,0.6 M15.4,-2.6 L15.4,0.6 M17,-2.6 L17,0.6" stroke-width="0.7"/>
<rect x="19.3" y="-4.6" width="2.0" height="9.2" rx="0.9" fill="#fff" stroke-width="1.0"/>
<rect x="21.3" y="-0.9" width="3.4" height="1.8" fill="#fff" stroke-width="0.8"/>
<rect x="24.7" y="-3.0" width="2.2" height="6.0" rx="0.9" fill="#fff" stroke-width="1.0"/>
</g>
<text transform="translate(203.6,346.3) scale(1.05,1)" font-size="11.6" text-anchor="start" fill="#111" font-weight="bold" >H</text>
<line x1="236.3" y1="352.7" x2="236.3" y2="456.1" stroke="#181818" stroke-width="1.35" />
<line x1="235.70000000000002" y1="455.5" x2="390.5" y2="455.5" stroke="#181818" stroke-width="1.35" />
<line x1="236.3" y1="455.5" x2="236.3" y2="458.1" stroke="#262626" stroke-width="1.0" />
<line x1="280.3" y1="455.5" x2="280.3" y2="458.1" stroke="#262626" stroke-width="1.0" />
<line x1="324.3" y1="455.5" x2="324.3" y2="458.1" stroke="#262626" stroke-width="1.0" />
<line x1="368.0" y1="459.0" x2="368.0" y2="461.6" stroke="#262626" stroke-width="1.0" />
<line x1="232.89999999999998" y1="362.5" x2="235.7" y2="362.5" stroke="#262626" stroke-width="1.1" />
<text transform="translate(229.59999999999997,365.5) scale(0.8,1)" font-size="9.3" text-anchor="end" fill="#2a2a2a" >100</text>
<line x1="232.89999999999998" y1="409.0" x2="235.7" y2="409.0" stroke="#262626" stroke-width="1.1" />
<text transform="translate(229.59999999999997,412.0) scale(0.8,1)" font-size="9.3" text-anchor="end" fill="#2a2a2a" >50</text>
<line x1="232.89999999999998" y1="455.5" x2="235.7" y2="455.5" stroke="#262626" stroke-width="1.1" />
<text transform="translate(229.59999999999997,458.5) scale(0.8,1)" font-size="9.3" text-anchor="end" fill="#2a2a2a" >0</text>
<text transform="translate(236.3,469.2) scale(0.88,1)" font-size="9.1" text-anchor="middle" fill="#333" >0</text>
<text transform="translate(280.3,469.2) scale(0.88,1)" font-size="9.1" text-anchor="middle" fill="#333" >20</text>
<text transform="translate(324.3,469.2) scale(0.88,1)" font-size="9.1" text-anchor="middle" fill="#333" >40</text>
<text transform="translate(367.6,472.0) scale(0.88,1)" font-size="9.1" text-anchor="middle" fill="#333" >60</text>
<text transform="translate(314.0,480.8) scale(0.88,1)" font-size="9.1" text-anchor="middle" fill="#333" >Days</text>
<text transform="translate(210.5,404) rotate(-90)" font-size="8.6" text-anchor="middle" fill="#333" textLength="40.4" lengthAdjust="spacingAndGlyphs">Survival (%)</text>
<path d="M236.8,362.5 L350.5,362.50 L350.5,378.00 L354.5,378.00 L354.5,393.50 L356.5,393.50 L356.5,424.50 L361.5,424.50 L361.5,440.00 L363.5,440.00 L363.5,455.50" fill="none" stroke="#d8557a" stroke-width="1.0"/>
<path d="M236.8,362.5 L315.5,362.50 L315.5,378.00 L319.0,378.00 L319.0,409.00 L321.8,409.00 L321.8,424.50 L324.3,424.50 L324.3,440.00 L326.6,440.00 L326.6,455.50" fill="none" stroke="#68b2da" stroke-width="1.0"/>
<path d="M236.8,362.5 L321.5,362.50 L321.5,378.00 L324.5,378.00 L324.5,393.50 L327.5,393.50 L327.5,409.00 L328.5,409.00 L328.5,424.50 L332.5,424.50 L332.5,455.50" fill="none" stroke="#5c3566" stroke-width="1.0"/>
<path d="M236.8,362.5 L293.5,362.50 L293.5,393.50 L295.5,393.50 L295.5,424.50 L297.5,424.50 L297.5,440.00 L300.5,440.00 L300.5,455.50" fill="none" stroke="#cdcdcd" stroke-width="1.0"/>
<text transform="translate(240.0,436.2) scale(0.98,1)" font-size="6.7" text-anchor="start" fill="#333" >sh<tspan font-style="italic">WDR5</tspan>+CX vs.</text>
<line x1="240.0" y1="437.6" x2="287.2" y2="437.6" stroke="#444" stroke-width="0.6" />
<text transform="translate(240.0,444.2) scale(0.98,1)" font-size="6.7" text-anchor="start" fill="#333" >shNC+CX ***</text>
<text transform="translate(240.0,451.2) scale(0.98,1)" font-size="6.7" text-anchor="start" fill="#333" >sh<tspan font-style="italic">WDR5</tspan>+veh ***</text>
<line x1="269.7" y1="495.0" x2="279.6" y2="495.0" stroke="#c8c8c8" stroke-width="1.0" />
<line x1="274.6" y1="493.4" x2="274.6" y2="495.5" stroke="#c8c8c8" stroke-width="0.9" />
<text transform="translate(283.1,497.9) scale(0.88,1)" font-size="9.1" text-anchor="start" fill="#333" >shNC+veh (n = 6)</text>
<line x1="269.7" y1="506.4" x2="279.6" y2="506.4" stroke="#68b2da" stroke-width="1.0" />
<line x1="274.6" y1="504.79999999999995" x2="274.6" y2="506.9" stroke="#68b2da" stroke-width="0.9" />
<text transform="translate(283.1,509.29999999999995) scale(0.88,1)" font-size="9.1" text-anchor="start" fill="#333" >shNC+CX (n = 6)</text>
<line x1="269.7" y1="517.8" x2="279.6" y2="517.8" stroke="#5c3566" stroke-width="1.0" />
<line x1="274.6" y1="516.1999999999999" x2="274.6" y2="518.3" stroke="#5c3566" stroke-width="0.9" />
<text transform="translate(283.1,520.6999999999999) scale(0.88,1)" font-size="9.1" text-anchor="start" fill="#333" >sh<tspan font-style="italic">WDR5</tspan>+veh (n = 6)</text>
<line x1="269.7" y1="529.2" x2="279.6" y2="529.2" stroke="#d8557a" stroke-width="1.0" />
<line x1="274.6" y1="527.6" x2="274.6" y2="529.7" stroke="#d8557a" stroke-width="0.9" />
<text transform="translate(283.1,532.1) scale(0.88,1)" font-size="9.1" text-anchor="start" fill="#333" >sh<tspan font-style="italic">WDR5</tspan>+CX (n = 6)</text>
<rect x="0" y="0" width="520" height="1" fill="#5e5e5e" />
<rect x="0" y="0" width="1" height="541" fill="#565656" />
<rect x="518.8" y="0" width="1.2" height="541" fill="#3c3c3c" />
<rect x="0" y="539.6" width="520" height="1.4" fill="#3c3c3c" />
</svg></body></html>
